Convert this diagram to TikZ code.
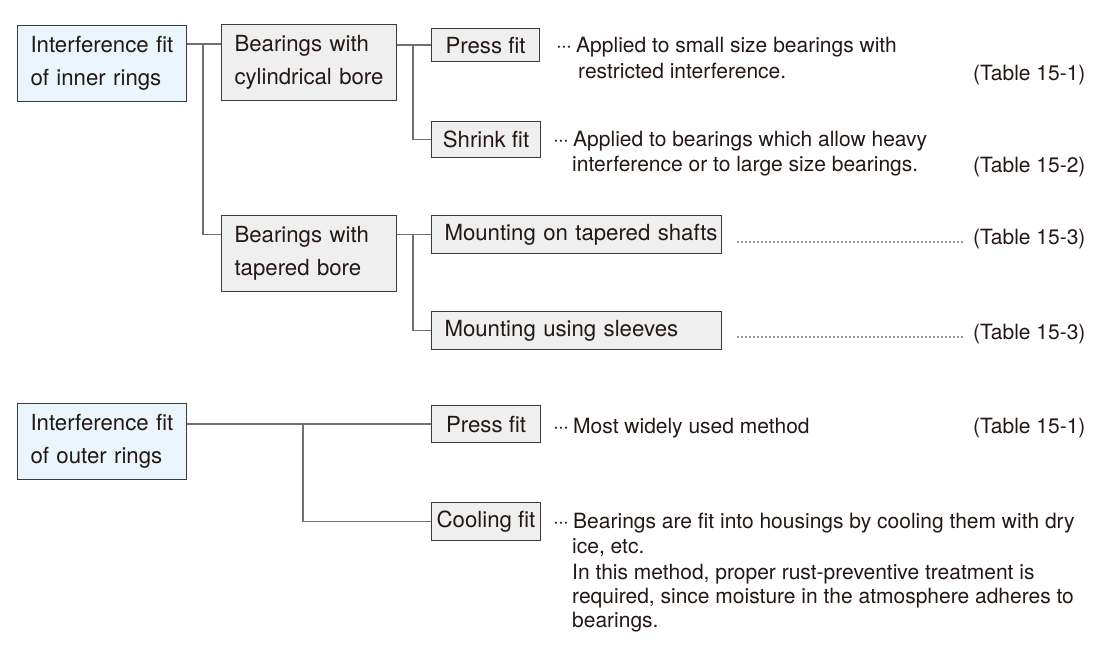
\documentclass[tikz,border=0pt]{standalone}
\usepackage{fontspec}
\setmainfont{TeX Gyre Heros}
\usetikzlibrary{calc}
\definecolor{boxblue}{HTML}{EAF5FC}
\definecolor{boxgray}{HTML}{EEEFEE}
\definecolor{edge}{HTML}{3F3A3A}
\definecolor{wire}{HTML}{707070}
\definecolor{ink}{HTML}{231815}
\newcommand\mydots{·\kern-0.04em·\kern-0.04em·\hspace{0.2em}}
\begin{document}
\begin{tikzpicture}[x=1pt,y=-1pt,
  box/.style={draw=edge, line width=1.1pt, anchor=north west, inner ysep=0pt, inner xsep=13pt, text=ink, font=\fontsize{22.2}{33}\selectfont, align=left},
  rootbox/.style={box, fill=boxblue, minimum height=76pt},
  subbox/.style={box, fill=boxgray},
  onebox/.style={subbox, inner xsep=2pt, align=center},
  conn/.style={draw=wire, line width=1.3pt},
  desc/.style={anchor=base west, inner sep=0pt, text=ink, font=\fontsize{21}{25}\selectfont},
  leader/.style={draw=ink!90, line width=1.8pt, dash pattern=on 0pt off 4pt, line cap=round}]
\useasboundingbox (0,0) rectangle (1100,670);

% boxes
\node[rootbox, text width=143pt] (root1) at (17,25) {\mbox{Interference fit}\\\mbox{of inner rings}};
\node[subbox, text width=149pt, minimum height=76pt] (cyl) at (221,24) {\mbox{Bearings with}\\\mbox{cylindrical bore}};
\node[subbox, text width=149pt, minimum height=76pt] (taper) at (221,215) {\mbox{Bearings with}\\\mbox{tapered bore}};
\node[onebox, minimum width=108pt, minimum height=33pt] (press1) at (431,28) {Press fit};
\node[onebox, minimum width=109pt, minimum height=36pt] (shrink) at (431,121) {Shrink fit};
\node[subbox, text width=264pt, minimum height=38pt] (shafts) at (431,215) {\mbox{Mounting on tapered shafts}};
\node[subbox, text width=264pt, minimum height=38pt] (sleeves) at (431,311) {\mbox{Mounting using sleeves}};
\node[rootbox, text width=143pt] (root2) at (17,403) {\mbox{Interference fit}\\\mbox{of outer rings}};
\node[onebox, minimum width=109pt, minimum height=37pt] (press2) at (431,405) {Press fit};
\node[onebox, minimum width=109pt, minimum height=38pt] (cooling) at (431,502) {Cooling fit};

% connectors
\coordinate (ja) at (203,44);
\draw[conn] (root1.east |- ja) -- (cyl.west |- ja);
\draw[conn] (ja) |- (taper.west |- shafts.west);
\coordinate (jb) at (413,44);
\draw[conn] (cyl.east |- press1.west) -- (press1.west);
\draw[conn] (jb) |- (shrink.west);
\coordinate (jc) at (413,234);
\draw[conn] (taper.east |- shafts.west) -- (shafts.west);
\draw[conn] (jc) |- (sleeves.west);
\coordinate (jd) at (303,424);
\draw[conn] (root2.east |- press2.west) -- (press2.west);
\draw[conn] (jd) |- (cooling.west);

% descriptions
\node[desc] (d1a) at (556,52) {\mydots Applied to small size bearings with};
\node[desc] (d1b) at (578,78) {restricted interference.};
\node[desc] (t1) at (973,80) {(Table 15-1)};
\node[desc] (d2a) at (553,146) {\mydots Applied to bearings which allow heavy};
\node[desc] (d2b) at (572,171) {interference or to large size bearings.};
\node[desc] (t2) at (973,172) {(Table 15-2)};
\node[desc] (t3) at (973,244) {(Table 15-3)};
\coordinate (l3) at (738,242);
\draw[leader, shorten >=8pt] (l3) -- (l3 -| t3.west);
\node[desc] (t4) at (973,339) {(Table 15-3)};
\coordinate (l4) at (738,337);
\draw[leader, shorten >=8pt] (l4) -- (l4 -| t4.west);
\node[desc] (d5) at (553,433) {\mydots Most widely used method};
\node[desc] (t5) at (973,433) {(Table 15-1)};
\node[desc] (d6a) at (553,528) {\mydots Bearings are fit into housings by cooling them with dry};
\node[desc] (d6b) at (572,553) {ice, etc.};
\node[desc] (d6c) at (572,579) {In this method, proper rust-preventive treatment is};
\node[desc] (d6d) at (572,603) {required, since moisture in the atmosphere adheres to};
\node[desc] (d6e) at (572,627) {bearings.};
\end{tikzpicture}
\end{document}
